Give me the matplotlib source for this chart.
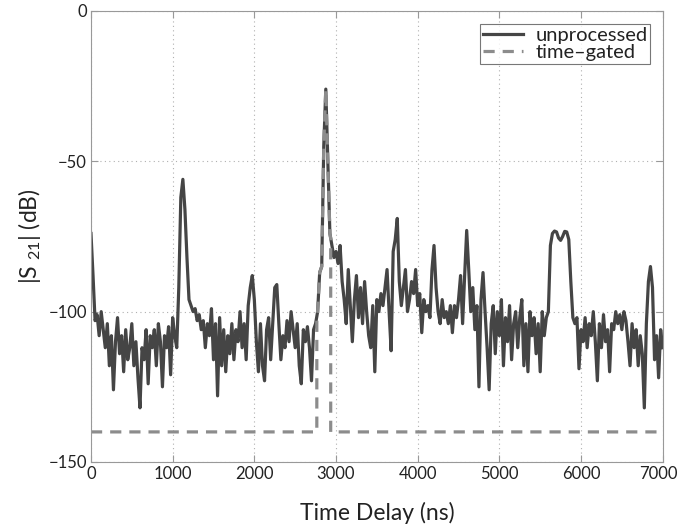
import numpy as np
import matplotlib
matplotlib.use("Agg")
import matplotlib.pyplot as plt
from matplotlib.transforms import ScaledTranslation

# time axis (ns), 25 ns step
t = np.arange(0, 7001, 25)

s21_a = [-74, -88, -103, -101, -108, -100, -106, -112, -104, -118,
         -108, -126, -110, -102, -114, -108, -120, -106, -116, -112,
         -104, -118, -110, -122, -132, -112, -116, -106, -124, -108,
         -112, -106, -118, -104, -110, -125, -108, -112, -105, -121]
s21_b = [-102, -108, -112, -92, -62, -56, -66, -82, -96, -98,
         -100, -99, -103, -101, -106, -103, -112, -104, -108, -99,
         -116, -104, -128, -102, -118, -106, -120, -108, -114, -104,
         -116, -106, -110, -100, -112, -104, -116, -98, -92, -88]
s21_c = [-96, -110, -120, -104, -118, -123, -106, -102, -116, -104,
         -92, -91, -104, -116, -108, -112, -103, -110, -100, -106,
         -112, -104, -118, -124, -106, -110, -105, -112, -123, -106,
         -104, -100, -87, -85, -45, -26, -50, -74, -78, -82]
s21_d = [-80, -84, -78, -90, -96, -104, -86, -98, -110, -96,
         -88, -102, -92, -104, -90, -100, -108, -112, -98, -120,
         -96, -100, -94, -98, -92, -86, -100, -113, -80, -76,
         -69, -90, -98, -92, -86, -100, -96, -90, -94, -86]
s21_e = [-98, -94, -107, -96, -100, -98, -102, -86, -78, -92,
         -100, -104, -96, -102, -100, -104, -98, -107, -98, -102,
         -96, -88, -104, -88, -73, -86, -100, -92, -106, -98,
         -125, -96, -87, -100, -112, -126, -104, -98, -114, -100]
s21_f = [-108, -96, -118, -102, -110, -98, -116, -104, -100, -112,
         -102, -96, -118, -104, -120, -100, -108, -102, -114, -104,
         -120, -100, -108, -102, -100, -78, -74, -73.2, -73.5, -75.5,
         -76.3, -75, -73.3, -73.5, -76, -90, -102, -104, -102, -119]
s21_g = [-106, -110, -102, -112, -104, -108, -100, -110, -123, -104,
         -112, -101, -110, -106, -120, -104, -106, -100, -104, -101,
         -106, -100, -103, -110, -118, -104, -112, -106, -118, -108,
         -114, -132, -104, -90, -85, -92, -116, -108, -122, -106, -112]
unprocessed = np.array(s21_a + s21_b + s21_c + s21_d + s21_e + s21_f + s21_g)

# time gate window (ns) and floor level (dB)
gate_start, gate_stop = 2765, 2935
gate_floor = -140

inside = (t >= gate_start) & (t <= gate_stop)
# gated trace: floor outside the window, measured trace inside, vertical edges at the gate
t_g = np.concatenate([t[t < gate_start], [gate_start, gate_start],
                      t[inside], [gate_stop, gate_stop], t[t > gate_stop]])
g_in = np.interp(gate_start, t, unprocessed)
g_out = np.interp(gate_stop, t, unprocessed)
gated_plot = np.concatenate([np.full((t < gate_start).sum(), gate_floor), [gate_floor, g_in],
                             unprocessed[inside], [g_out, gate_floor],
                             np.full((t > gate_stop).sum(), gate_floor)])

plt.rcParams['font.family'] = ['Lato', 'DejaVu Sans']
plt.rcParams['mathtext.fontset'] = 'custom'
plt.rcParams['mathtext.rm'] = 'Lato'

fig = plt.figure(figsize=(6.79, 5.29), dpi=100)
ax = fig.add_axes([0.134, 0.1267, 0.842, 0.8526])

ax.plot(t, unprocessed, color='#454545', lw=2.3, label='unprocessed')
ax.plot(t_g, gated_plot, color='#8c8c8c', lw=2.3, ls=(0, (3.5, 2.5)), label='time\u2013gated')

ax.set_xlim(0, 7000)
ax.set_ylim(-150, 0)
ax.set_xticks(np.arange(0, 7001, 1000))
ax.set_yticks([-150, -100, -50, 0])
ax.set_yticklabels(['\u2212150', '\u2212100', '\u221250', '0'])
ax.grid(True, ls=(0, (1, 3)), color='#b0b0b0', lw=0.8)
ax.tick_params(direction='in', top=True, right=True, length=5, color='#999999',
               labelsize=12, labelcolor='#222222', pad=3)
for sp in ax.spines.values():
    sp.set_color('#999999')

# nudge the last x label so it stays inside the image
last = ax.get_xticklabels()[-1]
last.set_transform(last.get_transform() + ScaledTranslation(-3 / 72, 0, fig.dpi_scale_trans))

ax.set_xlabel('Time Delay (ns)', fontsize=16.5, color='#222222', labelpad=14)
ax.set_ylabel('|S $\\mathregular{_{21}}$| (dB)', fontsize=16.5, color='#222222', labelpad=4)

leg = ax.legend(loc='upper right', fontsize=14.5, handlelength=2.0, borderpad=0.15,
                labelspacing=0.0, handletextpad=0.6, fancybox=False,
                bbox_to_anchor=(0.996, 0.993))
leg.get_frame().set_edgecolor('#555555')
leg.get_frame().set_linewidth(0.8)
for txt in leg.get_texts():
    txt.set_color('#222222')

fig.savefig('out.png', dpi=100)
